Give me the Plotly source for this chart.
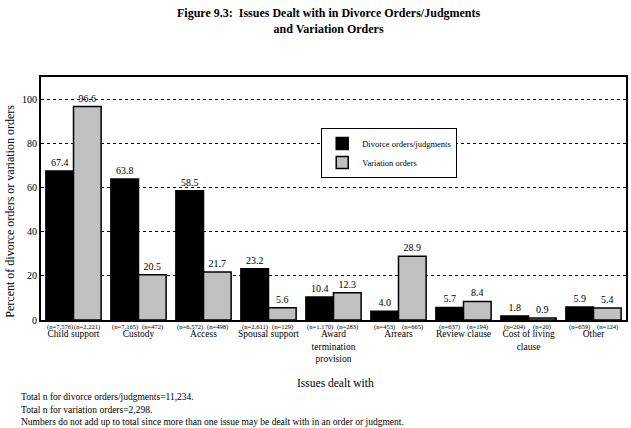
import plotly.graph_objects as go

categories = ["Child support", "Custody", "Access", "Spousal support",
              "Award<br>termination<br>provision", "Arrears", "Review clause",
              "Cost of living<br>clause", "Other"]
divorce_pct = [67.4, 63.8, 58.5, 23.2, 10.4, 4.0, 5.7, 1.8, 5.9]
variation_pct = [96.6, 20.5, 21.7, 5.6, 12.3, 28.9, 8.4, 0.9, 5.4]
divorce_n = ["7,576", "7,165", "6,572", "2,611", "1,170", "453", "637", "204", "659"]
variation_n = ["2,221", "472", "498", "129", "283", "665", "194", "20", "124"]
footnotes = [
    "Total n for divorce orders/judgments=11,234.",
    "Total n for variation orders=2,298.",
    "Numbers do not add up to total since more than one issue may be dealt with in an order or judgment.",
]

FONT = "Liberation Serif"
idx = list(range(len(categories)))

fig = go.Figure()
fig.add_trace(go.Bar(
    x=idx, y=divorce_pct, name="Divorce orders/judgments",
    marker=dict(color="#000000", line=dict(color="#000000", width=1.5)),
    text=[f"{v:.1f}" for v in divorce_pct], textposition="outside",
    textfont=dict(family=FONT, size=10, color="#000000"), cliponaxis=False,
))
fig.add_trace(go.Bar(
    x=idx, y=variation_pct, name="Variation orders",
    marker=dict(color="#c0c0c0", line=dict(color="#000000", width=1.5)),
    text=[f"{v:.1f}" for v in variation_pct], textposition="outside",
    textfont=dict(family=FONT, size=10, color="#000000"), cliponaxis=False,
))

bargap = 0.15
off = (1 - bargap) / 4
annotations = []
# sample sizes sit just under each bar
for i in idx:
    for dx, n in ((-off, divorce_n[i]), (off, variation_n[i])):
        annotations.append(dict(
            x=i + dx, y=0, xref="x", yref="paper", yanchor="top", yshift=-1,
            text=f"(n={n})", showarrow=False,
            font=dict(family=FONT, size=6.6, color="#000000"),
        ))

# title drawn as an annotation so both lines stay inside the page
annotations.append(dict(
    x=(330 - 41) / 587, y=1 + (77 - 4) / 243, xref="paper", yref="paper",
    xanchor="center", yanchor="top",
    text="<b>Figure 9.3:  Issues Dealt with in Divorce Orders/Judgments<br>and Variation Orders</b>",
    showarrow=False, font=dict(family=FONT, size=12, color="#000000"),
))
annotations.append(dict(
    x=0.504, y=-0.259, xref="paper", yref="paper", xanchor="center", yanchor="middle",
    text="Issues dealt with", showarrow=False,
    font=dict(family=FONT, size=11.5, color="#000000"),
))
annotations.append(dict(
    x=-0.053, y=0.45, xref="paper", yref="paper", xanchor="center", yanchor="middle",
    textangle=-90, text="Percent of divorce orders or variation orders", showarrow=False,
    font=dict(family=FONT, size=12, color="#000000"),
))
for line, yy in zip(footnotes, [-0.317, -0.370, -0.420]):
    annotations.append(dict(
        x=-0.038, y=yy, xref="paper", yref="paper", xanchor="left", yanchor="middle",
        text=line, showarrow=False,
        font=dict(family=FONT, size=9.5, color="#000000"),
    ))

fig.update_layout(
    width=631, height=428,
    margin=dict(l=41, r=3, t=77, b=108),
    paper_bgcolor="white", plot_bgcolor="white",
    font=dict(family=FONT, color="#000000"),
    barmode="group", bargap=bargap, bargroupgap=0,
    legend=dict(
        x=0.479, y=0.79, xanchor="left", yanchor="top",
        bgcolor="white", bordercolor="#000000", borderwidth=1,
        font=dict(family=FONT, size=8.5, color="#000000"),
        itemwidth=30, tracegroupgap=0,
    ),
    annotations=annotations,
    showlegend=True,
)
fig.update_xaxes(
    tickmode="array", tickvals=idx, ticktext=categories,
    range=[-0.5, len(categories) - 0.5],
    showline=True, linecolor="#000000", linewidth=2, mirror=True,
    ticks="", tickfont=dict(family=FONT, size=9.5, color="#000000"),
    ticklabelstandoff=4, showgrid=False,
)
fig.update_yaxes(
    range=[0, 110], tickvals=[0, 20, 40, 60, 80, 100],
    showline=True, linecolor="#000000", linewidth=2, mirror=True,
    ticks="", tickfont=dict(family=FONT, size=10, color="#000000"),
    showgrid=True, gridcolor="#000000", gridwidth=1, griddash="dot",
    zeroline=False,
)

fig.write_html("out.html", config={"displayModeBar": False},
               post_script="document.body.style.margin='0';")
